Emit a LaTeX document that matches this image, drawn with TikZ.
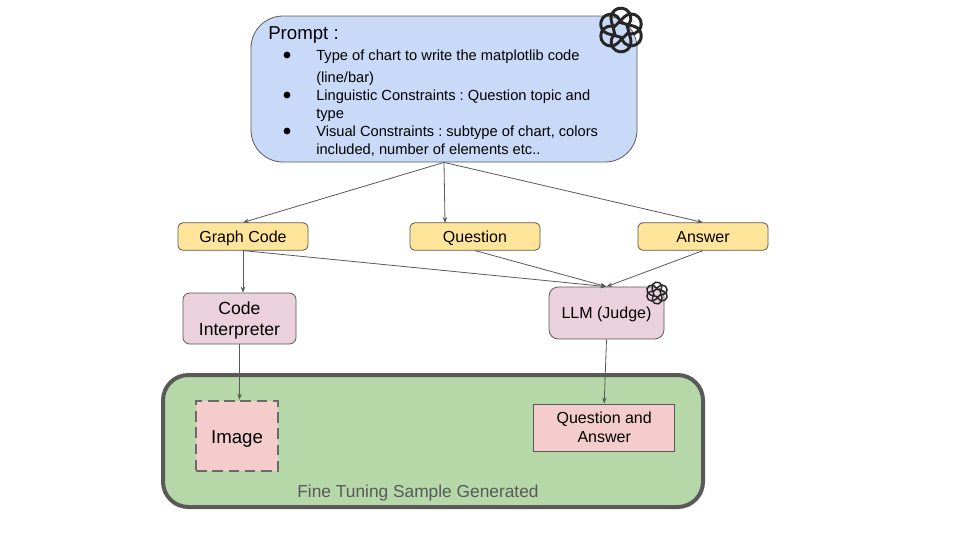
\documentclass[tikz,border=0pt]{standalone}
\usepackage{fontspec}
\setmainfont{Liberation Sans}
\usetikzlibrary{arrows.meta}
\definecolor{edge}{HTML}{595959}
\definecolor{bluefill}{HTML}{C9DAF8}
\definecolor{yellowfill}{HTML}{FFE599}
\definecolor{mauvefill}{HTML}{EAD1DC}
\definecolor{greenfill}{HTML}{B6D7A8}
\definecolor{pinkfill}{HTML}{F4CCCC}
\tikzset{
  x=0.75pt,y=-0.75pt,
  box/.style={draw=edge,line width=0.6pt,align=center,inner sep=0pt,text=black,font=\fontsize{12}{14.25}\selectfont},
  yellowbox/.style={box,fill=yellowfill,rounded corners=3.5pt,minimum width=97.5pt,minimum height=20.5pt,text height=11.2pt,text depth=2.5pt},
  link/.style={draw=edge,line width=0.6pt,-{Stealth[length=4.5pt,width=3.4pt]}},
}
\newcommand{\oailogo}[4]{% x y scale linewidth
  \begin{scope}[shift={(#1,#2)},x=#3*0.75pt,y=#3*0.75pt]
    \foreach \a in {0,60,...,300}{
      \draw[line width=#4,draw=black!85,rotate=\a+15,line cap=round]
        (-7,-4) -- (-7,11.5) arc[start angle=180,end angle=-50,radius=10] -- ++(-130:3);
    }
  \end{scope}
}
\begin{document}
\frenchspacing
\begin{tikzpicture}
\useasboundingbox (0,0) rectangle (960,540);
\fill[white] (0,0) rectangle (960,540);

\node[box,fill=bluefill,rounded corners=24pt,minimum width=289.5pt,minimum height=109.5pt] (prompt) at (444,89) {};
\node[anchor=base west,inner sep=0pt,font=\fontsize{14}{16}\selectfont] (ptitle) at (268,39.5) {Prompt :};
\foreach \n/\yy/\t in {
  a/60/{Type of chart to write the matplotlib code},
  b/82/{(line/bar)},
  c/100/{Linguistic Constraints : Question topic and},
  d/118/{type},
  e/136/{Visual Constraints : subtype of chart, colors},
  f/154/{included, number of elements etc..}}{
  \node[anchor=base west,inner sep=0pt,font=\fontsize{11}{12}\selectfont] (t\n) at (316,\yy) {\t};
}
\foreach \n/\yy in {a/55,c/95,e/131}{
  \fill (287,\yy) circle[radius=3.4] coordinate (dot\n);
}
\oailogo{621}{30}{1.0}{2.2pt}

\node[yellowbox] (gc) at (243,236.5) {Graph Code};
\node[yellowbox] (q) at (475,236.5) {Question};
\node[yellowbox] (ans) at (703,236.5) {Answer};

\node[box,fill=mauvefill,rounded corners=5pt,minimum width=84.75pt,minimum height=38.25pt,font=\fontsize{13.2}{15.75}\selectfont,text depth=0pt] (ci) at (239.5,318.5) {Code\\Interpreter};
\node[box,fill=mauvefill,rounded corners=7pt,minimum width=86.25pt,minimum height=39pt,text height=10pt,text depth=2.5pt] (llm) at (606.5,313) {LLM (Judge)};
\oailogo{657}{293}{0.5}{1.1pt}

\node[draw=edge,line width=3pt,fill=greenfill,rounded corners=19pt,minimum width=405pt,minimum height=99pt,inner sep=0pt] (sample) at (433,441) {};
\node[box,draw=edge!90,line width=1.9pt,dash pattern=on 8pt off 4.2pt,fill=pinkfill,minimum width=61.5pt,minimum height=52.5pt,font=\fontsize{14}{15}\selectfont,text height=10.5pt,text depth=0pt] (img) at (237,436) {Image};
\node[box,fill=pinkfill,minimum width=105.5pt,minimum height=35.25pt] (qa) at (604.2,427.5) {Question and\\Answer};
\node[anchor=base,inner sep=0pt,text=edge,font=\fontsize{13}{14}\selectfont] (caption) at (418,497) {Fine Tuning Sample Generated};

\coordinate (qin) at (445,223);
\draw[link] (prompt.south) -- (gc.north);
\draw[link] (prompt.south) -- (qin);
\draw[link] (prompt.south) -- (ans.north);
\draw[link] (gc.south) -- (gc.south |- ci.north);
\draw[link] (gc.south) -- (llm.north);
\draw[link] (q.south) -- (llm.north);
\draw[link] (ans.south) -- (llm.north);
\draw[link] (ci.south) -- (ci.south |- img.north);
\draw[link] (llm.south) -- (qa.north);
\end{tikzpicture}
\end{document}
